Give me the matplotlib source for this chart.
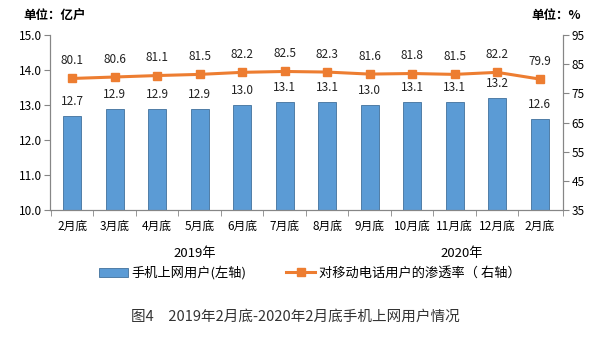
import matplotlib
matplotlib.use("Agg")
import matplotlib.pyplot as plt
import numpy as np

plt.rcParams['font.family'] = ['Noto Sans CJK SC', 'DejaVu Sans']

months = ["2月底", "3月底", "4月底", "5月底", "6月底", "7月底", "8月底",
          "9月底", "10月底", "11月底", "12月底", "2月底"]
users = [12.7, 12.9, 12.9, 12.9, 13.0, 13.1, 13.1, 13.0, 13.1, 13.1, 13.2, 12.6]
penetration = [80.1, 80.6, 81.1, 81.5, 82.2, 82.5, 82.3, 81.6, 81.8, 81.5, 82.2, 79.9]
left_ticks = [10.0, 11.0, 12.0, 13.0, 14.0, 15.0]
right_ticks = [35, 45, 55, 65, 75, 85, 95]

bar_color = "#5B9BD5"
bar_edge = "#41719C"
line_color = "#ED7D31"
axis_color = "#868686"

fig = plt.figure(figsize=(5.9, 3.38), dpi=100)
ax = fig.add_axes([0.0847, 0.3787, 0.8695, 0.5177])
ax2 = ax.twinx()

x = np.arange(len(months))
ax.bar(x, users, width=0.42, color=bar_color, edgecolor=bar_edge, linewidth=0.6, zorder=2)
ax.set_ylim(10, 15)
ax.set_yticks(left_ticks)
ax.set_yticklabels([f"{v:.1f}" for v in left_ticks])
ax.set_xlim(-0.52, 11.55)

for xi, v in zip(x, users):
    ax.text(xi, v + 0.22, f"{v:.1f}", ha="center", va="bottom", fontsize=8.5, color="#222222")

ax2.plot(x, penetration, color=line_color, linewidth=2.2, marker="s", markersize=5.5, zorder=3)
ax2.set_ylim(35, 95)
ax2.set_yticks(right_ticks)
for xi, v in zip(x, penetration):
    ax2.text(xi, v + 3.8, f"{v:.1f}", ha="center", va="bottom", fontsize=8.5, color="#222222")

# category boundary ticks on the x axis
ax.set_xticks(x)
ax.set_xticklabels(months, fontsize=8.5)
ax.tick_params(axis="x", length=0, pad=7)
ax.set_xticks(np.append(x - 0.5, 11.55), minor=True)
ax.tick_params(axis="x", which="minor", length=4, color=axis_color, direction="out")

for a in (ax, ax2):
    a.spines["top"].set_visible(False)
    for s in ("left", "right", "bottom"):
        a.spines[s].set_color(axis_color)
        a.spines[s].set_linewidth(0.8)
ax.tick_params(axis="y", labelsize=8.5, color=axis_color, length=4, pad=2)
ax2.tick_params(axis="y", labelsize=8.5, color=axis_color, length=4, pad=2)

fig.text(195 / 590, 1 - 254 / 338, "2019年", ha="center", va="center", fontsize=9.5)
fig.text(462 / 590, 1 - 254 / 338, "2020年", ha="center", va="center", fontsize=9.5)

fig.text(0.04, 0.955, "单位：亿户", ha="left", va="center", fontsize=9, fontweight="bold")
fig.text(0.985, 0.955, "单位：%", ha="right", va="center", fontsize=9, fontweight="bold")

handles = [
    plt.Rectangle((0, 0), 1, 1, facecolor=bar_color, edgecolor=bar_edge, linewidth=0.6),
    plt.Line2D([0], [0], color=line_color, linewidth=2.2, marker="s", markersize=5.5),
]
fig.legend(handles, ["手机上网用户(左轴)", "对移动电话用户的渗透率（ 右轴）"],
           loc="center", bbox_to_anchor=(0.525, 1 - 273 / 338), ncol=2, frameon=False,
           fontsize=9.5, handlelength=2.2, handletextpad=0.3, columnspacing=3.0)

fig.text(0.5, 1 - 317 / 338, "图4　2019年2月底-2020年2月底手机上网用户情况", ha="center", va="center",
         fontsize=10.5, color="#333333")

fig.savefig("out.png", dpi=100)
